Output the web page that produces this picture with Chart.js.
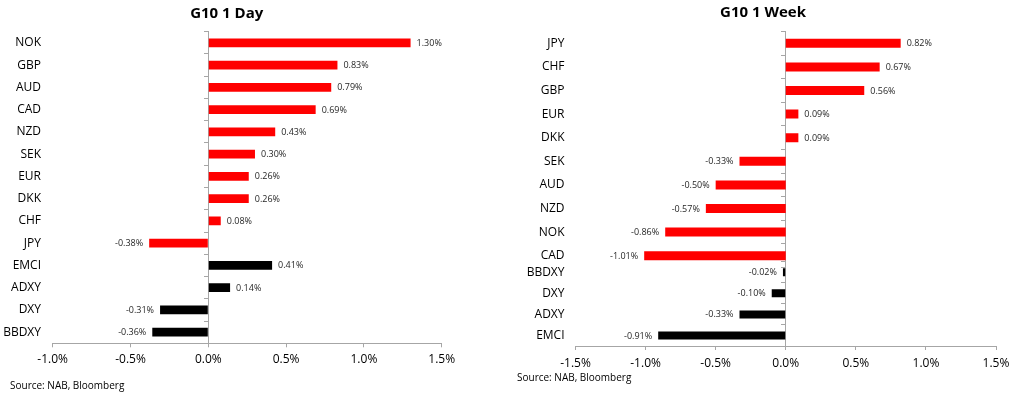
<!DOCTYPE html>
<html>
<head>
<meta charset="utf-8">
<script src="https://cdn.jsdelivr.net/npm/chart.js@4/dist/chart.umd.min.js"></script>
<style>
  html, body { margin: 0; padding: 0; background: #fff; width: 1024px; height: 394px; overflow: hidden; }
  canvas { position: absolute; }
  .src { position: absolute; font-family: 'Open Sans', sans-serif; font-size: 10px; color: #000; line-height: 14px; white-space: nowrap; }
</style>
</head>
<body>
<canvas id="day" width="460" height="394" style="left:0;top:0"></canvas>
<canvas id="weekTop" width="530" height="272" style="left:500px;top:0"></canvas>
<canvas id="weekBot" width="530" height="144" style="left:500px;top:250px"></canvas>
<div class="src" style="left:10px;top:378px">Source: NAB, Bloomberg</div>
<div class="src" style="left:517px;top:370px">Source: NAB, Bloomberg</div>
<script>
// ---- data ----
const dayG10Labels = ['NOK','GBP','AUD','CAD','NZD','SEK','EUR','DKK','CHF','JPY'];
const dayG10Values = [1.30, 0.83, 0.79, 0.69, 0.43, 0.30, 0.26, 0.26, 0.08, -0.38];
const dayIdxLabels = ['EMCI','ADXY','DXY','BBDXY'];
const dayIdxValues = [0.41, 0.14, -0.31, -0.36];

const weekG10Labels = ['JPY','CHF','GBP','EUR','DKK','SEK','AUD','NZD','NOK','CAD'];
const weekG10Values = [0.82, 0.67, 0.56, 0.09, 0.09, -0.33, -0.50, -0.57, -0.86, -1.01];
const weekIdxLabels = ['BBDXY','DXY','ADXY','EMCI'];
const weekIdxValues = [-0.02, -0.10, -0.33, -0.91];

const dayTicks = [-1.0, -0.5, 0.0, 0.5, 1.0, 1.5];
const weekTicks = [-1.5, -1.0, -0.5, 0.0, 0.5, 1.0, 1.5];

const RED = '#ff0000', BLACK = '#000000', AXIS = '#a6a6a6';
const FONT = "'Open Sans', sans-serif";
Chart.defaults.font.family = FONT;
Chart.defaults.color = '#000';

const valueLabels = {
  id: 'valueLabels',
  afterDatasetsDraw(chart) {
    const ctx = chart.ctx;
    ctx.save();
    ctx.font = "9px " + FONT;
    ctx.fillStyle = '#262626';
    ctx.textBaseline = 'middle';
    chart.data.datasets.forEach((ds, i) => {
      chart.getDatasetMeta(i).data.forEach((bar, j) => {
        const v = ds.data[j];
        const pos = v >= 0;
        ctx.textAlign = pos ? 'left' : 'right';
        ctx.fillText(v.toFixed(2) + '%', bar.x + (pos ? 6 : -6), bar.y + 0.5);
      });
    });
    ctx.restore();
  }
};

function makeChart(id, labels, values, colors, o) {
  const ticks = o.ticks;
  return new Chart(document.getElementById(id), {
    type: 'bar',
    data: {
      labels: labels,
      datasets: [{ data: values, backgroundColor: colors, borderWidth: 0,
                   categoryPercentage: 1, barPercentage: o.barPct }]
    },
    options: {
      indexAxis: 'y',
      responsive: false,
      animation: false,
      devicePixelRatio: 1,
      layout: { padding: o.padding },
      plugins: {
        legend: { display: false },
        tooltip: { enabled: false },
        title: o.title ? {
          display: true, text: o.title, color: '#000',
          font: { family: FONT, size: 15, weight: 'bold' },
          padding: o.titlePad
        } : { display: false }
      },
      scales: {
        x: {
          type: 'linear',
          display: o.showX,
          min: ticks[0], max: ticks[ticks.length - 1],
          afterBuildTicks: (s) => { s.ticks = ticks.map(v => ({ value: v })); },
          ticks: { font: { size: 12 }, color: '#000', padding: o.xPad,
                   callback: (v) => Number(v).toFixed(1) + '%' },
          grid: { display: true, drawOnChartArea: false, drawTicks: true, tickLength: 4, color: AXIS },
          border: { display: true, color: AXIS },
          afterFit: (s) => {
            s.height = o.showX ? 30 : 0;
            s.paddingLeft = 0;
            s.paddingRight = o.xRightPad;
          }
        },
        y: {
          type: 'category',
          position: 'left',
          ticks: { font: { size: 12 }, color: '#000', padding: o.yPad, autoSkip: false },
          grid: { display: false, drawTicks: false },
          border: { display: false },
          afterFit: (s) => { s.width = o.yWidth; s.paddingTop = 0; s.paddingBottom = 0; }
        },
        y2: {
          type: 'category',
          axis: 'y',
          position: { x: 0 },
          offset: true,
          ticks: { display: false },
          grid: { display: true, offset: true, drawOnChartArea: false, drawTicks: true, tickLength: 4, color: AXIS },
          border: { display: true, color: AXIS }
        }
      }
    },
    plugins: [valueLabels]
  });
}

// Left: G10 1 Day
makeChart('day',
  dayG10Labels.concat(dayIdxLabels),
  dayG10Values.concat(dayIdxValues),
  dayG10Labels.map(() => RED).concat(dayIdxLabels.map(() => BLACK)),
  { ticks: dayTicks, barPct: 0.4, showX: true, title: 'G10 1 Day',
    titlePad: { top: 5, bottom: 8.7 },
    padding: { left: 0, right: 6.6, top: 0, bottom: 20.7 },
    xRightPad: 18.3,
    yWidth: 52.7, yPad: 11.7, xPad: 5 });

// Right top: G10 currencies, 1 week
makeChart('weekTop', weekG10Labels, weekG10Values, weekG10Labels.map(() => RED),
  { ticks: weekTicks, barPct: 0.38, showX: false, title: 'G10 1 Week',
    titlePad: { top: 3.3, bottom: 10.2 },
    padding: { left: 0, right: 4, top: 0, bottom: 4.5 },
    xRightPad: 34,
    yWidth: 75.5, yPad: 11, xPad: 6 });

// Right bottom: indices, 1 week
makeChart('weekBot', weekIdxLabels, weekIdxValues, weekIdxLabels.map(() => BLACK),
  { ticks: weekTicks, barPct: 0.38, showX: true, title: null,
    padding: { left: 0, right: 4, top: 11.7, bottom: 18 },
    xRightPad: 34,
    yWidth: 75.5, yPad: 11, xPad: 6 });
</script>
</body>
</html>
